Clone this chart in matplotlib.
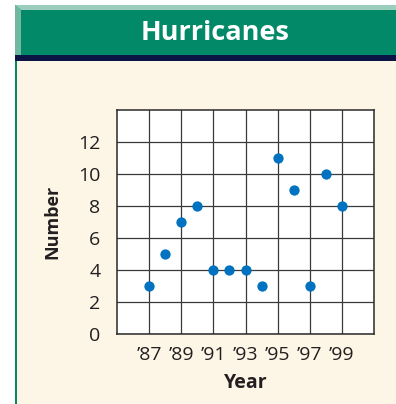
import matplotlib
matplotlib.use('Agg')
import matplotlib.pyplot as plt
from matplotlib.patches import Rectangle, Polygon

plt.rcParams['font.family'] = ['Open Sans', 'DejaVu Sans']

# hurricanes per year, 1987-1999
years = [87, 88, 89, 90, 91, 92, 93, 94, 95, 96, 97, 98, 99]
counts = [3, 5, 7, 8, 4, 4, 4, 3, 11, 9, 3, 10, 8]
year_ticks = [87, 89, 91, 93, 95, 97, 99]
year_labels = ['\u201987', '\u201989', '\u201991', '\u201993', '\u201995', '\u201997', '\u201999']
count_ticks = [0, 2, 4, 6, 8, 10, 12]

W, H = 396, 404
GREEN = '#028a68'
CREAM = '#fdf6e6'
INK = '#231f20'

fig = plt.figure(figsize=(W / 100, H / 100), dpi=100)
fig.patch.set_facecolor('white')


def box(x0, y0, x1, y1, color):
    # pixel box measured from the top-left corner
    fig.add_artist(Rectangle((x0 / W, 1 - y1 / H), (x1 - x0) / W, (y1 - y0) / H,
                             transform=fig.transFigure, facecolor=color,
                             edgecolor='none', zorder=0))


def poly(pts, color):
    fig.add_artist(Polygon([(x / W, 1 - y / H) for x, y in pts], closed=True,
                           transform=fig.transFigure, facecolor=color,
                           edgecolor='none', zorder=0))


# panel background and left rule
box(15, 60, W, H, CREAM)
box(15, 60, 17, H, GREEN)

# title bar with bevelled top and left edges
box(15, 5, W, 55, GREEN)
poly([(15, 5), (W, 5), (W, 10), (21, 10)], '#9bcdbd')
poly([(15, 5), (21, 10), (21, 55), (15, 55)], '#6fb9a0')
box(15, 55, W, 61, '#0b1445')
fig.text(215 / W, 1 - 33 / H, 'Hurricanes', color='white', fontsize=19.5,
         fontweight='bold', ha='center', va='center')

ax = fig.add_axes([117 / W, 1 - 334 / H, (374 - 117) / W, (334 - 110) / H])
ax.set_facecolor('white')
ax.scatter(years, counts, s=55, color='#0072bf', zorder=3, linewidths=0)

ax.set_xlim(85, 101)
ax.set_ylim(0, 14)
ax.set_xticks(year_ticks)
ax.set_xticklabels(year_labels)
ax.set_yticks(count_ticks)
ax.tick_params(length=0, labelsize=14, colors=INK)
ax.tick_params(axis='y', pad=12)
ax.tick_params(axis='x', pad=9)
ax.grid(True, color='#3a3a3a', linewidth=0.9)
ax.set_axisbelow(True)
for s in ax.spines.values():
    s.set_color('#2a2a2a')
    s.set_linewidth(1.1)

ax.set_xlabel('Year', fontsize=14, fontweight='bold', color=INK, labelpad=6)
ax.set_ylabel('Number', fontsize=13, fontweight='bold', color=INK, labelpad=12)

fig.savefig('out.png', dpi=100)
